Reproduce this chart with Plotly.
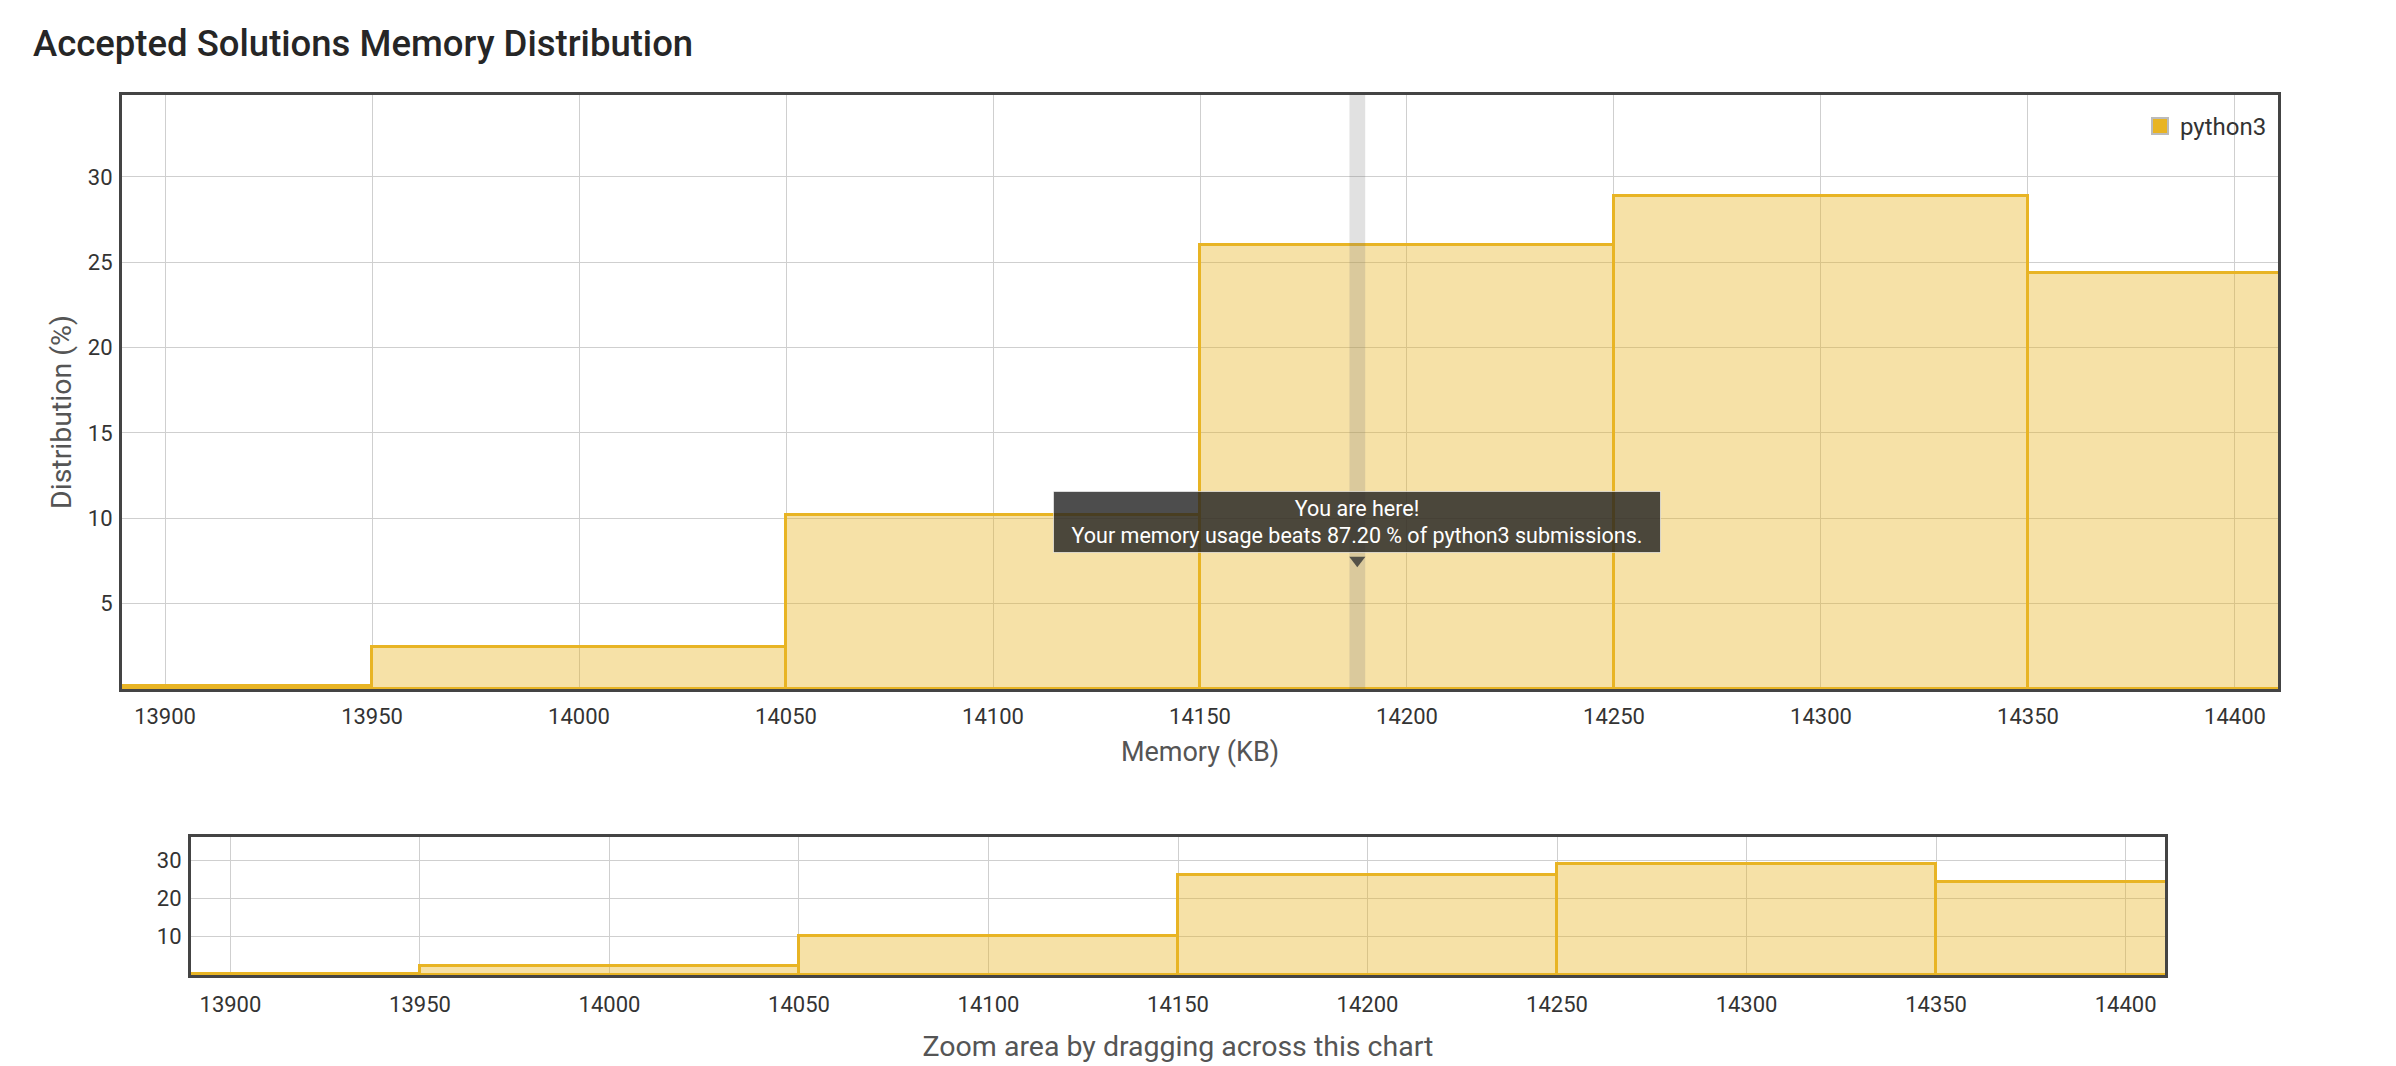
import plotly.graph_objects as go

# ---- data ----
bin_starts = [13850, 13950, 14050, 14150, 14250, 14350]
bin_width = 100
distribution = [0.18, 2.44, 10.21, 26.04, 28.89, 24.37]
series_name = "python3"
your_memory = 14188
beats_pct = "87.20"
x_ticks = [13900, 13950, 14000, 14050, 14100, 14150, 14200, 14250, 14300, 14350, 14400]
x_tick_labels = [str(v) for v in x_ticks]
y_ticks_main = [5, 10, 15, 20, 25, 30]
y_ticks_nav = [10, 20, 30]

W, H = 2396, 1066
FONT = "Roboto"
GOLD = "rgb(232,180,36)"
FILL = "rgba(232,180,36,0.4)"
GRID = "#cfcfcf"
BORDER = "#444444"
TXT = "#333333"

def px_x(p):
    return p / W

def px_y(p):
    return 1 - p / H

fig = go.Figure()

for xa, ya in (("x", "y"), ("x2", "y2")):
    fig.add_trace(go.Bar(
        x=bin_starts, y=distribution, width=[bin_width] * len(bin_starts), offset=0,
        marker=dict(color=FILL, line=dict(color=GOLD, width=3)),
        xaxis=xa, yaxis=ya, showlegend=False, hoverinfo="skip", name=series_name,
    ))

# legend entry
fig.add_trace(go.Scatter(
    x=[None], y=[None], mode="markers", name=series_name,
    marker=dict(symbol="square", size=16, color=GOLD, line=dict(color="#bbbbbb", width=2)),
    xaxis="x", yaxis="y",
))

# tooltip pointer
fig.add_trace(go.Scatter(
    x=[your_memory], y=[7.55], mode="markers", showlegend=False, hoverinfo="skip",
    marker=dict(symbol="triangle-down", size=14, color="rgba(32,32,32,0.8)", line=dict(width=0)),
    xaxis="x", yaxis="y",
))

xr = [13889.6, 14410.4]
axis_common = dict(showgrid=True, gridcolor=GRID, gridwidth=1, zeroline=False,
                   showline=True, mirror=True, linecolor=BORDER, linewidth=3,
                   ticks="", automargin=False,
                   tickfont=dict(family=FONT, size=22, color=TXT))
title_font = dict(family=FONT, size=27, color="#555555")

fig.update_layout(
    width=W, height=H,
    margin=dict(l=0, r=0, t=0, b=0),
    paper_bgcolor="white", plot_bgcolor="white",
    font=dict(family=FONT, color=TXT),
    bargap=0,
    title=dict(text="Accepted Solutions Memory Distribution",
               x=px_x(33), xanchor="left", y=px_y(43), yanchor="middle",
               font=dict(family=FONT, size=36.5, color="#262626", weight=500)),
    xaxis=dict(domain=[px_x(122), px_x(2278)], anchor="y", range=xr,
               tickvals=x_ticks, ticktext=x_tick_labels, ticklabelstandoff=6,
               title=dict(text="Memory (KB)", font=title_font, standoff=14),
               **axis_common),
    yaxis=dict(domain=[px_y(689), px_y(95)], anchor="x", range=[0, 34.8],
               tickvals=y_ticks_main, ticklabelstandoff=2,
               **axis_common),
    xaxis2=dict(domain=[px_x(191), px_x(2165)], anchor="y2", range=xr,
                tickvals=x_ticks, ticktext=x_tick_labels, ticklabelstandoff=8,
                title=dict(text="Zoom area by dragging across this chart",
                           font=dict(family=FONT, size=28.5, color="#555555"), standoff=20),
                **axis_common),
    yaxis2=dict(domain=[px_y(975), px_y(837)], anchor="x2", range=[0, 36],
                tickvals=y_ticks_nav, ticklabelstandoff=2,
                **axis_common),
    legend=dict(x=px_x(2272), xanchor="right", y=px_y(104), yanchor="top",
                bgcolor="rgba(0,0,0,0)", font=dict(family=FONT, size=24, color=TXT),
                itemwidth=30, itemsizing="trace", tracegroupgap=0),
    shapes=[dict(type="rect", xref="x", yref="y domain", x0=your_memory - 1.9, x1=your_memory + 1.9,
                 y0=0, y1=1, fillcolor="rgba(120,120,120,0.22)", line=dict(width=0), layer="above")],
    annotations=[
        dict(x=your_memory, y=7.95, xref="x", yref="y", xanchor="center", yanchor="bottom",
             text=f"You are here!<br>Your memory usage beats {beats_pct} % of python3 submissions.",
             showarrow=False, align="center", width=600, height=54,
             bgcolor="rgba(32,32,32,0.8)", bordercolor="rgba(255,255,255,0.6)", borderwidth=1, borderpad=3,
             font=dict(family=FONT, size=21.5, color="white")),
        dict(x=px_x(61), y=px_y(412), xref="paper", yref="paper", xanchor="center", yanchor="middle",
             text="Distribution (%)", textangle=-90, showarrow=False,
             font=dict(family=FONT, size=28.5, color="#555555")),
    ],
)

fig.write_html("out.html", config={"displayModeBar": False},
               post_script="document.body.style.margin='0';document.body.style.overflow='hidden';")
